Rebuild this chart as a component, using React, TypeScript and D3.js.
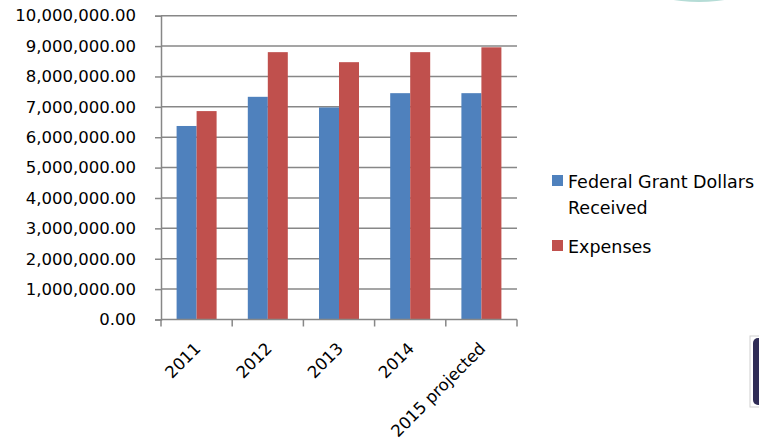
import React, { useEffect, useRef } from 'react';
import * as d3 from 'd3';

// Data
const categories = ['2011', '2012', '2013', '2014', '2015 projected'];
const seriesNames = ['Federal Grant Dollars Received', 'Expenses'];
const federalGrant = [6370000, 7330000, 6980000, 7450000, 7450000];
const expenses = [6860000, 8800000, 8470000, 8800000, 8960000];
const yTicks = [0, 1e6, 2e6, 3e6, 4e6, 5e6, 6e6, 7e6, 8e6, 9e6, 1e7];

const colors = ['#4f81bd', '#c0504d'];
const FONT = '"DejaVu Sans", sans-serif';

function App() {
  const svgRef = useRef<SVGSVGElement>(null);

  useEffect(() => {
    if (!svgRef.current) return;
    const svg = d3.select(svgRef.current);
    svg.selectAll('*').remove();

    const left = 161;
    const right = 517;
    const top = 15.7;
    const bottom = 319.5;

    const x = d3.scaleBand<string>().domain(categories).range([left, right]).padding(0);
    const x1 = d3
      .scaleBand<string>()
      .domain(seriesNames)
      .range([0, x.bandwidth()])
      .paddingInner(0)
      .paddingOuter(0.78);
    const y = d3.scaleLinear().domain([0, 1e7]).range([bottom, top]);

    const axisColor = '#878787';
    const fmt = d3.format(',.2f');

    // Gridlines
    svg
      .append('g')
      .selectAll('line')
      .data(yTicks.filter(t => t > 0))
      .enter()
      .append('line')
      .attr('x1', left)
      .attr('x2', right)
      .attr('y1', d => y(d))
      .attr('y2', d => y(d))
      .attr('stroke', axisColor)
      .attr('stroke-width', 1.5);

    // Bars
    const rows = categories.map((c, i) => ({ c, vals: [federalGrant[i], expenses[i]] }));
    const groups = svg
      .append('g')
      .selectAll('g')
      .data(rows)
      .enter()
      .append('g')
      .attr('transform', d => `translate(${x(d.c)},0)`);

    groups
      .selectAll('rect')
      .data(d => d.vals.map((v, i) => ({ name: seriesNames[i], v, i })))
      .enter()
      .append('rect')
      .attr('x', d => x1(d.name)!)
      .attr('width', x1.bandwidth())
      .attr('y', d => y(d.v))
      .attr('height', d => bottom - y(d.v))
      .attr('fill', d => colors[d.i]);

    // Y axis
    const yAxis = d3
      .axisLeft(y)
      .tickValues(yTicks)
      .tickFormat(d => fmt(d as number))
      .tickSize(6)
      .tickPadding(19);
    const yg = svg.append('g').attr('transform', `translate(${left},0)`).call(yAxis);
    yg.select('.domain').attr('stroke', axisColor).attr('stroke-width', 1.5);
    yg.selectAll('.tick line').attr('stroke', axisColor).attr('stroke-width', 1.5);
    yg.selectAll('.tick text')
      .attr('fill', '#000')
      .style('font-family', FONT)
      .style('font-size', '16.5px');

    // X axis
    const xg = svg.append('g').attr('transform', `translate(0,${bottom})`);
    xg.append('line')
      .attr('x1', left)
      .attr('x2', right)
      .attr('stroke', axisColor)
      .attr('stroke-width', 1.5);
    const boundaries = [...categories.map(c => x(c)!), right];
    xg.selectAll('.xtick')
      .data(boundaries)
      .enter()
      .append('line')
      .attr('x1', d => d)
      .attr('x2', d => d)
      .attr('y1', 0)
      .attr('y2', 7)
      .attr('stroke', axisColor)
      .attr('stroke-width', 1.5);
    xg.selectAll('.xlabel')
      .data(categories)
      .enter()
      .append('text')
      .attr('transform', d => `translate(${x(d)! + x.bandwidth() / 2 + 1},${26}) rotate(-45)`)
      .attr('text-anchor', 'end')
      .attr('dy', '0.35em')
      .style('font-family', FONT)
      .style('font-size', '16.5px')
      .attr('fill', '#000')
      .text(d => d);

    // Legend
    const legend = svg.append('g');
    const legendItems = [
      { lines: ['Federal Grant Dollars', 'Received'], y: 175 },
      { lines: ['Expenses'], y: 240 },
    ];
    legendItems.forEach((item, i) => {
      legend
        .append('rect')
        .attr('x', 552)
        .attr('y', item.y)
        .attr('width', 11)
        .attr('height', 11)
        .attr('fill', colors[i]);
      const t = legend
        .append('text')
        .attr('x', 568)
        .attr('y', item.y + 12.5)
        .style('font-family', FONT)
        .style('font-size', '17.5px')
        .attr('fill', '#000');
      item.lines.forEach((ln, j) => {
        t.append('tspan')
          .attr('x', 568)
          .attr('dy', j === 0 ? 0 : 26)
          .text(ln);
      });
    });

    // Cropped remnants at the edges of the screenshot
    svg
      .append('ellipse')
      .attr('cx', 699)
      .attr('cy', -10)
      .attr('rx', 46)
      .attr('ry', 12)
      .attr('fill', '#b5dcd6');
    svg
      .append('rect')
      .attr('x', 750)
      .attr('y', 336)
      .attr('width', 20)
      .attr('height', 71)
      .attr('fill', '#fff')
      .attr('stroke', '#cfcfcf');
    svg
      .append('rect')
      .attr('x', 753)
      .attr('y', 338)
      .attr('width', 20)
      .attr('height', 67)
      .attr('rx', 5)
      .attr('fill', '#2f2c56');
  }, []);

  return (
    <svg
      ref={svgRef}
      width={759}
      height={447}
      style={{ position: 'absolute', left: 0, top: 0, background: '#fff' }}
    />
  );
}

export default App;
